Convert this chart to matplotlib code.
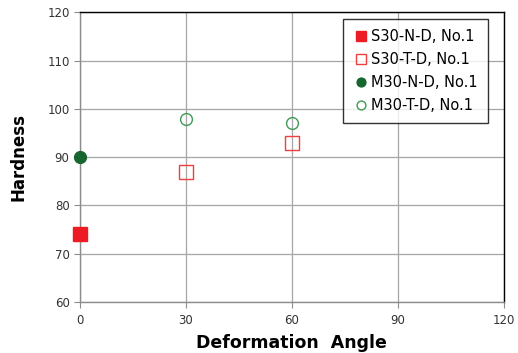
import matplotlib.pyplot as plt

# data
s30_nd_x = [0]
s30_nd_y = [74]
s30_td_x = [30, 60]
s30_td_y = [87, 93]
m30_nd_x = [0]
m30_nd_y = [90]
m30_td_x = [30, 60]
m30_td_y = [98, 97]

fig = plt.figure(figsize=(5.18, 3.53), dpi=100)
ax = fig.add_axes([0.1544, 0.1445, 0.818, 0.8205])

ax.plot(s30_nd_x, s30_nd_y, 's', ms=9.5, color='#ed1c24', mec='#ed1c24',
        label='S30-N-D, No.1', clip_on=False, zorder=3)
ax.plot(s30_td_x, s30_td_y, 's', ms=9.5, mfc='none', mec='#ef3f3f', mew=1.0,
        label='S30-T-D, No.1', clip_on=False, zorder=3)
ax.plot(m30_nd_x, m30_nd_y, 'o', ms=8.5, color='#17652f', mec='#17652f',
        label='M30-N-D, No.1', clip_on=False, zorder=3)
ax.plot(m30_td_x, m30_td_y, 'o', ms=8.5, mfc='none', mec='#3f9a55', mew=1.0,
        label='M30-T-D, No.1', clip_on=False, zorder=3)

ax.set_xlim(0, 120)
ax.set_ylim(60, 120)
ax.set_xticks([0, 30, 60, 90, 120])
ax.set_yticks([60, 70, 80, 90, 100, 110, 120])
ax.grid(True, color='#a6a6a6', linewidth=0.9)
ax.set_axisbelow(True)

for side in ['top', 'right']:
    ax.spines[side].set_color('black')
    ax.spines[side].set_linewidth(1.0)
for side in ['left', 'bottom']:
    ax.spines[side].set_color('#8c8c8c')
    ax.spines[side].set_linewidth(1.0)

ax.tick_params(axis='both', labelsize=8.5, length=4, width=0.8, color='#8c8c8c',
               labelcolor='#333333')
ax.tick_params(axis='x', pad=5)

ax.set_xlabel('Deformation  Angle', fontsize=12.5, fontweight='bold', labelpad=5)
ax.set_ylabel('Hardness', fontsize=12, fontweight='bold', labelpad=14)

leg = ax.legend(loc='upper left', bbox_to_anchor=(0.621, 0.977), fontsize=10.5,
                frameon=True, fancybox=False, edgecolor='black',
                handletextpad=0.2, handlelength=1.0, borderpad=0.7,
                labelspacing=0.55, borderaxespad=0, markerscale=0.75)
leg.get_frame().set_linewidth(1.0)

fig.savefig('out.png', dpi=100)
